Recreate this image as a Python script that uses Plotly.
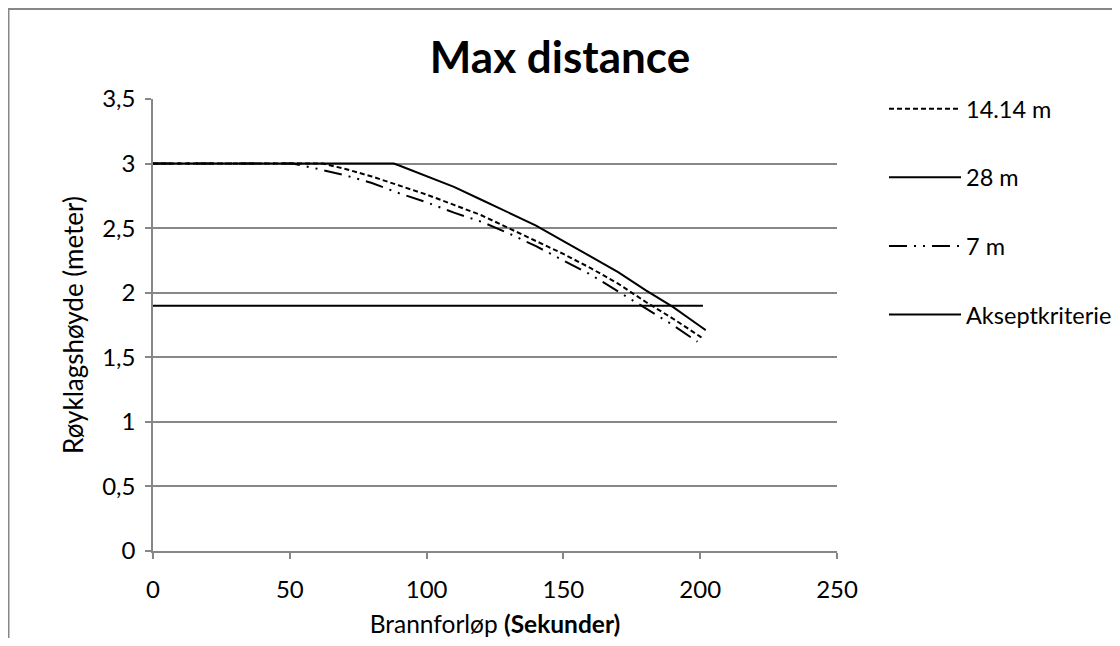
import plotly.graph_objects as go

# Data
t_14 = [0, 10, 20, 30, 40, 50, 60, 62, 70, 80, 90, 100, 110, 120, 130, 140, 150, 160, 170, 180, 190, 200, 201]
h_14 = [3.0, 3.0, 3.0, 3.0, 3.0, 3.0, 3.0, 3.0, 2.96, 2.90, 2.83, 2.76, 2.68, 2.60, 2.50, 2.40, 2.30, 2.19, 2.07, 1.93, 1.80, 1.66, 1.645]

t_28 = [0, 10, 20, 30, 40, 50, 60, 70, 80, 88, 90, 100, 110, 120, 130, 140, 150, 160, 170, 180, 190, 200, 202]
h_28 = [3.0, 3.0, 3.0, 3.0, 3.0, 3.0, 3.0, 3.0, 3.0, 3.0, 2.985, 2.90, 2.82, 2.72, 2.62, 2.52, 2.40, 2.28, 2.16, 2.02, 1.89, 1.74, 1.71]

t_7 = [0, 10, 20, 30, 40, 50, 51, 60, 70, 80, 90, 100, 110, 120, 130, 140, 150, 160, 170, 180, 190, 199]
h_7 = [3.0, 3.0, 3.0, 3.0, 3.0, 3.0, 3.0, 2.96, 2.91, 2.85, 2.77, 2.70, 2.62, 2.55, 2.46, 2.36, 2.25, 2.14, 2.01, 1.88, 1.75, 1.62]

t_ak = [0, 201]
h_ak = [1.9, 1.9]

x_ticks = [0, 50, 100, 150, 200, 250]
y_ticks = [0, 0.5, 1, 1.5, 2, 2.5, 3, 3.5]
y_labels = ["0", "0,5", "1", "1,5", "2", "2,5", "3", "3,5"]

FONT = "Lato, Open Sans, DejaVu Sans, sans-serif"
GRID = "#878787"

W, H = 1104, 630
L, T, PW, PH = 145, 91, 684, 452

fig = go.Figure()
fig.add_trace(go.Scatter(x=t_14, y=h_14, mode="lines", name="14.14 m", legendgroup="a",
                         line=dict(color="black", width=2, dash="5px,3px")))
fig.add_trace(go.Scatter(x=t_28, y=h_28, mode="lines", name="28 m", legendgroup="b",
                         line=dict(color="black", width=2)))
fig.add_trace(go.Scatter(x=t_7, y=h_7, mode="lines", name="7 m", legendgroup="c",
                         line=dict(color="black", width=2, dash="18px,7px,2px,7px,2px,7px")))
fig.add_trace(go.Scatter(x=t_ak, y=h_ak, mode="lines", name="Akseptkriterie", legendgroup="d",
                         line=dict(color="black", width=2)))

fig.update_layout(
    width=W, height=H,
    margin=dict(l=L, r=W - L - PW, t=T, b=H - T - PH, autoexpand=False),
    paper_bgcolor="white", plot_bgcolor="white",
    font=dict(family=FONT, size=24, color="black"),
    title=dict(text="<b>Max distance</b>", x=0.5, xanchor="center",
               y=1 - 50 / H, yanchor="middle",
               font=dict(family=FONT, size=44, color="black")),
    showlegend=True,
    legend=dict(xref="container", yref="container",
                x=876 / W, xanchor="left", y=1 - 79 / H, yanchor="top",
                font=dict(family=FONT, size=23.5, color="black"),
                tracegroupgap=35, itemwidth=72, bgcolor="rgba(0,0,0,0)",
                traceorder="grouped"),
    xaxis=dict(range=[0, 250], tickvals=x_ticks, showgrid=False,
               showline=True, linecolor=GRID, linewidth=1.5,
               ticks="outside", ticklen=6, tickcolor=GRID, tickwidth=1.5,
               ticklabelstandoff=10, automargin=False,
               zeroline=False, tickfont=dict(size=24),
               title=dict(text="Brannforløp <b>(Sekunder)</b>", standoff=22,
                          font=dict(family=FONT, size=24.5))),
    yaxis=dict(range=[0, 3.5], tickvals=y_ticks, ticktext=y_labels,
               showgrid=True, gridcolor=GRID, gridwidth=1.5,
               showline=True, linecolor=GRID, linewidth=1.5,
               ticks="outside", ticklen=6, tickcolor=GRID, tickwidth=1.5,
               ticklabelstandoff=5, automargin=False,
               zeroline=False, tickfont=dict(size=24),
               title=dict(text="Røyklagshøyde (meter)", standoff=11,
                          font=dict(family=FONT, size=26))),
    shapes=[dict(type="rect", xref="paper", yref="paper",
                 x0=(0.5 - L) / PW, x1=(W + 20 - L) / PW,
                 y0=-(H + 20 - T - PH) / PH, y1=1 + (T - 1) / PH,
                 line=dict(color=GRID, width=2), fillcolor="rgba(0,0,0,0)",
                 layer="below")],
)

fig.write_html("out.html")
